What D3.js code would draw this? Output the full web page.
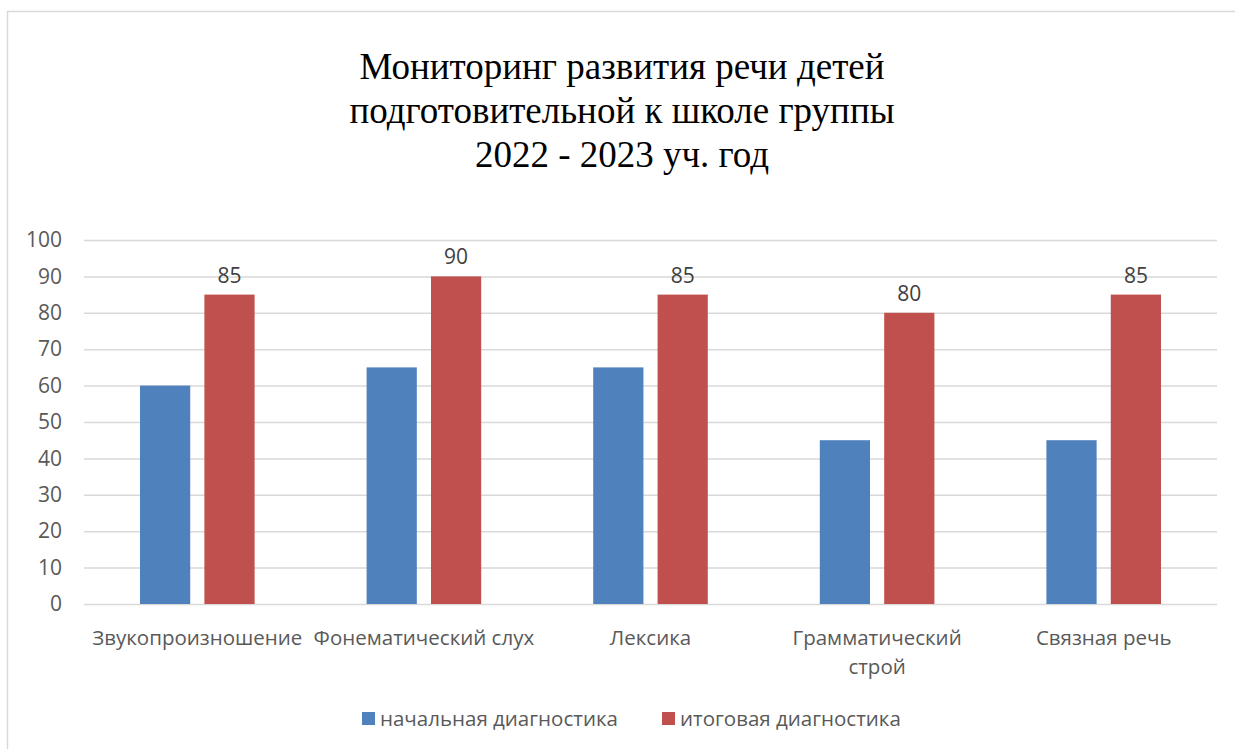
<!DOCTYPE html>
<html>
<head>
<meta charset="utf-8">
<script src="https://cdnjs.cloudflare.com/ajax/libs/d3/7.8.5/d3.min.js"></script>
<style>
    body { margin: 0; background: #fff; }
    text { font-family: "Open Sans", "Noto Sans", sans-serif; }
</style>
</head>
<body>
<div id="chart"></div>
<script>
//Chart data
var categories = ["Звукопроизношение", "Фонематический слух", "Лексика", "Грамматический\nстрой", "Связная речь"];
var seriesNames = ["начальная диагностика", "итоговая диагностика"];
var initialValues = [60, 65, 65, 45, 45];
var finalValues = [85, 90, 85, 80, 85];
var yTicks = [0, 10, 20, 30, 40, 50, 60, 70, 80, 90, 100];
var titleLines = ["Мониторинг развития речи детей", "подготовительной к школе группы", "2022 - 2023 уч. год"];
var colors = ["#4F81BD", "#C0504D"];

//Create SVG dimensions
var svgWidth = 1235;
var svgHeight = 749;

var margin = { top: 240, right: 18, bottom: 145, left: 84 };
var width = svgWidth - margin.left - margin.right;
var height = svgHeight - margin.top - margin.bottom;

var svg = d3.select("#chart")
    .append("svg")
    .attr("width", svgWidth)
    .attr("height", svgHeight);

//Outer chart border
svg.append("rect")
    .attr("x", 7.5)
    .attr("y", 11.5)
    .attr("width", svgWidth)
    .attr("height", svgHeight)
    .attr("fill", "none")
    .attr("stroke", "#d9d9d9")
    .attr("stroke-width", 1.5);

//Title
svg.append("g")
    .selectAll("text")
    .data(titleLines)
    .enter()
    .append("text")
    .attr("x", 622)
    .attr("y", (d, i) => 79 + i * 44)
    .attr("text-anchor", "middle")
    .style("font-family", "'Liberation Serif', 'Times New Roman', serif")
    .style("font-size", "37px")
    .attr("fill", "#000")
    .text(d => d);

var chartGroup = svg.append("g")
    .attr("transform", `translate(${margin.left}, ${margin.top})`);

var xScale = d3.scaleBand()
    .domain(categories)
    .range([0, width]);

var xSub = d3.scaleBand()
    .domain([0, 1])
    .range([56, xScale.bandwidth() - 56])
    .paddingInner(0.22);

var yScale = d3.scaleLinear()
    .domain([0, 100])
    .range([height, 0]);

//Gridlines
chartGroup.append("g")
    .call(d3.axisLeft(yScale).tickValues(yTicks).tickSize(-width).tickFormat(""))
    .call(g => g.select(".domain").remove())
    .call(g => g.selectAll("line").attr("stroke", "#d9d9d9").attr("stroke-width", 1.5));

//Y axis labels
chartGroup.append("g")
    .call(d3.axisLeft(yScale).tickValues(yTicks).tickSize(0).tickPadding(22))
    .call(g => g.select(".domain").remove())
    .call(g => g.selectAll("text")
        .attr("fill", "#595959")
        .style("font-size", "21px")
        .style("font-family", "'Open Sans', sans-serif"));

//Bars
var seriesData = [initialValues, finalValues];
seriesData.forEach((values, s) => {
    chartGroup.append("g")
        .selectAll("rect")
        .data(values)
        .enter()
        .append("rect")
        .attr("x", (d, i) => xScale(categories[i]) + xSub(s))
        .attr("y", d => yScale(d))
        .attr("width", xSub.bandwidth())
        .attr("height", d => height - yScale(d))
        .attr("fill", colors[s]);
});

//Data labels on final values
chartGroup.append("g")
    .selectAll("text")
    .data(finalValues)
    .enter()
    .append("text")
    .attr("x", (d, i) => xScale(categories[i]) + xSub(1) + xSub.bandwidth() / 2)
    .attr("y", d => yScale(d) - 12)
    .attr("text-anchor", "middle")
    .attr("fill", "#404040")
    .style("font-size", "21px")
    .text(d => d);

//Category labels
var catGroup = chartGroup.append("g")
    .attr("transform", `translate(0, ${height})`);

categories.forEach(c => {
    var t = catGroup.append("text")
        .attr("x", xScale(c) + xScale.bandwidth() / 2)
        .attr("y", 41)
        .attr("text-anchor", "middle")
        .attr("fill", "#595959")
        .style("font-size", "20.5px");
    c.split("\n").forEach((line, j) => {
        t.append("tspan")
            .attr("x", xScale(c) + xScale.bandwidth() / 2)
            .attr("dy", j === 0 ? 0 : 29)
            .text(line);
    });
});

//Legend
var legend = svg.append("g")
    .attr("transform", "translate(362, 712)");

var legendX = [0, 300];
seriesNames.forEach((name, i) => {
    legend.append("rect")
        .attr("x", legendX[i])
        .attr("y", 0)
        .attr("width", 13)
        .attr("height", 13)
        .attr("fill", colors[i]);
    legend.append("text")
        .attr("x", legendX[i] + 18)
        .attr("y", 14)
        .attr("fill", "#595959")
        .style("font-size", "20.5px")
        .text(name);
});
</script>
</body>
</html>
